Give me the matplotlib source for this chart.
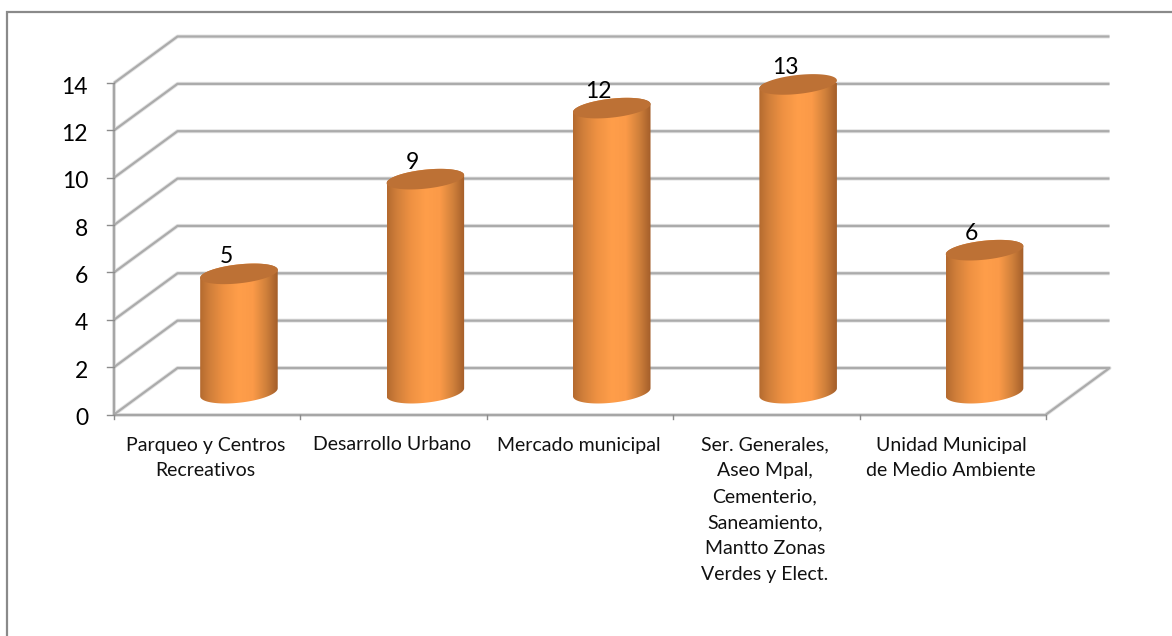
import numpy as np
import matplotlib
matplotlib.use('Agg')
import matplotlib.pyplot as plt
from matplotlib.colors import LinearSegmentedColormap
from matplotlib.patches import Polygon

plt.rcParams['font.family'] = ['Lato', 'DejaVu Sans']

categories = [
    'Parqueo y Centros\nRecreativos',
    'Desarrollo Urbano',
    'Mercado municipal',
    'Ser. Generales,\nAseo Mpal,\nCementerio,\nSaneamiento,\nMantto Zonas\nVerdes y Elect.',
    'Unidad Municipal\nde Medio Ambiente',
]
values = [5, 9, 12, 13, 6]
y_ticks = [0, 2, 4, 6, 8, 10, 12, 14]

W, H = 1172, 636
fig = plt.figure(figsize=(W / 100, H / 100), dpi=100)
fig.patch.set_facecolor('white')

# outer frame, no right or bottom edge in the picture
bg = fig.add_axes([0, 0, 1, 1])
bg.set_xlim(0, W)
bg.set_ylim(H, 0)
bg.axis('off')
bg.plot([7, 7, W], [H, 12, 12], color='#8a8a8a', lw=1.6, solid_joinstyle='miter')

# front plane of the chart, 1 x unit = one category, y is the value
left, right, bottom, top = 114, 1046, 414.5, 83
ax = fig.add_axes([left / W, 1 - bottom / H, (right - left) / W, (bottom - top) / H])
ax.set_xlim(0, len(categories))
ax.set_ylim(0, 14)
ax.axis('off')

px_x = len(categories) / (right - left)
px_y = 14 / (bottom - top)
depth_x = 63.5 * px_x
depth_y = 46.5 * px_y

grid = '#ababab'


def soft_line(xs, ys, color=grid, lw=1.6, z=1):
    ax.plot(xs, ys, color='#e4e4e4', lw=lw + 1.3, clip_on=False, zorder=z, solid_capstyle='butt')
    ax.plot(xs, ys, color=color, lw=lw, clip_on=False, zorder=z + 0.1, solid_capstyle='butt')


# walls
for v in y_ticks:
    if v == 0:
        soft_line([0, depth_x, len(categories) + depth_x, len(categories)],
                  [0, depth_y, depth_y, 0])
    else:
        soft_line([0, depth_x, len(categories) + depth_x], [v, v + depth_y, v + depth_y])

# axes
soft_line([0, 0], [0, 14], color='#a6a6a6')
soft_line([0, len(categories)], [0, 0], color='#a6a6a6')
for v in y_ticks:
    ax.plot([-7 * px_x, 0], [v, v], color='#8c8c8c', lw=1.0, clip_on=False, zorder=2)
    ax.text(-26 * px_x, v - 4 * px_y, str(v), ha='right', va='center', fontsize=16.5, color='black')
for i in range(len(categories) + 1):
    ax.plot([i, i], [0, -4.5 * px_y], color='#8c8c8c', lw=1.0, clip_on=False, zorder=2)

# cylinders
cyl = LinearSegmentedColormap.from_list('cyl', [
    (0.0, '#b46a2f'), (0.12, '#cf7e3a'), (0.3, '#ee9142'), (0.5, '#ff9e4a'),
    (0.68, '#fb9a48'), (0.85, '#d0803b'), (1.0, '#a35e2a')])
gradient = np.linspace(0, 1, 256).reshape(1, -1)

half_w = 0.208
minor_top = 9.5 * px_y
minor_base = 10.5 * px_y
tilt = 4.0 * px_y
t = np.linspace(0, np.pi, 60)

for i, val in enumerate(values):
    cx = i + 0.5 + depth_x / 2
    y0 = depth_y / 2 - 1 * px_y
    y1 = val + depth_y / 2 - 1 * px_y
    # lower half of the base, then upper half of the top
    low_x = cx - half_w * np.cos(t)
    low_y = y0 - minor_base * np.sin(t) - tilt * np.cos(t)
    top_x = cx + half_w * np.cos(t)
    top_y = y1 + minor_top * np.sin(t) + tilt * np.cos(t)
    body = Polygon(np.column_stack([np.r_[low_x, top_x], np.r_[low_y, top_y]]),
                   closed=True, transform=ax.transData, fc='none', ec='none')
    ax.add_patch(body)
    im = ax.imshow(gradient, extent=[cx - half_w, cx + half_w, y0 - 1, y1 + 1],
                   aspect='auto', cmap=cyl, zorder=3, clip_on=True, interpolation='bilinear')
    im.set_clip_path(body)
    # top face
    tt = np.linspace(0, 2 * np.pi, 120)
    ax.fill(cx + half_w * np.cos(tt), y1 + minor_top * np.sin(tt) + tilt * np.cos(tt),
            color='#bd7135', lw=0, zorder=4, clip_on=False)
    ax.text(cx - 13 * px_x, y1 + 6.5 * px_y, str(val), ha='center', va='bottom',
            fontsize=16.5, color='black', zorder=5)

ax.set_xlim(0, len(categories))
ax.set_ylim(0, 14)

# category labels
for i, label in enumerate(categories):
    ax.text(i + 0.5 - 1.5 * px_x, -22 * px_y, label, ha='center', va='top', fontsize=14,
            color='#111111', linespacing=1.64, clip_on=False)

fig.savefig('out.png', dpi=100)
